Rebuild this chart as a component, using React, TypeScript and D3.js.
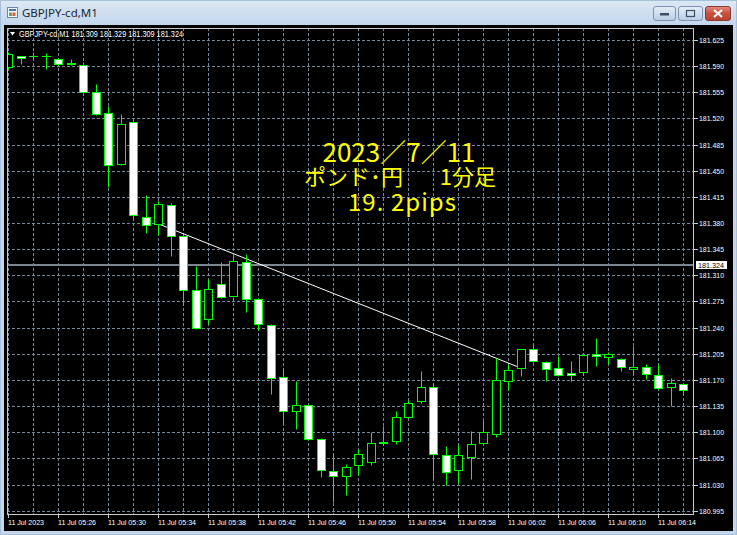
import React from "react";
import * as d3 from "d3";

// GBPJPY one-minute bars, 05:22 .. 06:16
const opens = [
  181.589, 181.604, 181.604, 181.603, 181.6, 181.594, 181.592, 181.555, 181.527, 181.459,
  181.515, 181.388, 181.379, 181.404, 181.362, 181.291, 181.252, 181.298, 181.282, 181.328,
  181.279, 181.244, 181.174, 181.129, 181.137, 181.091, 181.048, 181.042, 181.056, 181.06,
  181.086, 181.088, 181.12, 181.142, 181.161, 181.069, 181.05, 181.067, 181.085, 181.098,
  181.168, 181.186, 181.212, 181.194, 181.186, 181.179, 181.18, 181.205, 181.201, 181.198,
  181.184, 181.188, 181.177, 181.16, 181.164,
];
const highs = [
  181.609, 181.604, 181.609, 181.607, 181.601, 181.6, 181.595, 181.566, 181.536, 181.526,
  181.518, 181.418, 181.41, 181.407, 181.363, 181.323, 181.305, 181.328, 181.34, 181.338,
  181.28, 181.245, 181.184, 181.168, 181.138, 181.092, 181.072, 181.058, 181.078, 181.1,
  181.108, 181.128, 181.143, 181.182, 181.166, 181.082, 181.083, 181.102, 181.116, 181.199,
  181.19, 181.212, 181.217, 181.195, 181.202, 181.196, 181.205, 181.226, 181.208, 181.199,
  181.215, 181.191, 181.191, 181.172, 181.165,
];
const lows = [
  181.586, 181.593, 181.599, 181.586, 181.591, 181.592, 181.554, 181.525, 181.428, 181.458,
  181.387, 181.367, 181.364, 181.336, 181.27, 181.238, 181.245, 181.28, 181.281, 181.261,
  181.237, 181.151, 181.113, 181.104, 181.09, 181.04, 181.006, 181.016, 181.043, 181.056,
  181.083, 181.084, 181.119, 181.139, 181.038, 181.03, 181.032, 181.038, 181.085, 181.094,
  181.156, 181.175, 181.194, 181.169, 181.175, 181.169, 181.177, 181.189, 181.192, 181.182,
  181.176, 181.171, 181.158, 181.135, 181.15,
];
const closes = [
  181.606, 181.601, 181.604, 181.604, 181.593, 181.593, 181.556, 181.526, 181.458, 181.513,
  181.391, 181.378, 181.406, 181.362, 181.29, 181.239, 181.292, 181.281, 181.329, 181.278,
  181.245, 181.172, 181.129, 181.136, 181.091, 181.05, 181.041, 181.054, 181.071, 181.086,
  181.087, 181.121, 181.139, 181.16, 181.071, 181.047, 181.069, 181.084, 181.1, 181.17,
  181.183, 181.211, 181.195, 181.185, 181.176, 181.176, 181.204, 181.202, 181.205, 181.187,
  181.188, 181.178, 181.159, 181.166, 181.157,
];

const priceTicks = [
  181.625, 181.59, 181.555, 181.52, 181.485, 181.45, 181.415, 181.38, 181.345, 181.31,
  181.275, 181.24, 181.205, 181.17, 181.135, 181.1, 181.065, 181.03, 180.995,
];
const timeLabelBars = [0, 4, 8, 12, 16, 20, 24, 28, 32, 36, 40, 44, 48, 52];
const timeLabels = [
  "11 Jul 2023", "11 Jul 05:26", "11 Jul 05:30", "11 Jul 05:34", "11 Jul 05:38",
  "11 Jul 05:42", "11 Jul 05:46", "11 Jul 05:50", "11 Jul 05:54", "11 Jul 05:58",
  "11 Jul 06:02", "11 Jul 06:06", "11 Jul 06:10", "11 Jul 06:14",
];
const trendBars = [12, 41];
const trendPrices = [181.379, 181.186];
const currentPrice = 181.324;
const windowTitle = "GBPJPY-cd,M1";
const headerText = "GBPJPY-cd,M1  181.309 181.329 181.309 181.324";
const noteDate = "2023／7／11";
const notePair = "ポンド･円";
const noteFrame = "1分足";
const notePips = "19. 2pips";

const W = 737;
const H = 535;
const plot = { left: 7, right: 694, top: 28, bottom: 514 };
const GREEN = "#00ff00";
const GRID = "#778899";
const AXIS_FONT = "'Liberation Sans', Arial, sans-serif";
const NOTE_FONT = "'Noto Sans CJK JP', sans-serif";

export default function App() {
  const x = d3.scaleLinear().domain([0, 54]).range([8.3, 683.3]);
  const y = d3.scaleLinear().domain([180.995, 181.625]).range([510.7, 40]);
  const px = (v: number) => Math.round(v) + 0.5;

  const gridBars = d3.range(0, opens.length, 2);
  const trendLine = d3
    .line<number>()
    .x((_, i) => x(trendBars[i]))
    .y((p) => y(p));

  return (
    <svg
      width={W}
      height={H}
      viewBox={`0 0 ${W} ${H}`}
      style={{ position: "fixed", left: 0, top: 0, display: "block" }}
    >
      <defs>
        <linearGradient id="titleGrad" x1="0" y1="0" x2="0" y2="1">
          <stop offset="0" stopColor="#dce8f5" />
          <stop offset="1" stopColor="#c2d6ec" />
        </linearGradient>
        <linearGradient id="btnGrad" x1="0" y1="0" x2="0" y2="1">
          <stop offset="0" stopColor="#e6eef8" />
          <stop offset="1" stopColor="#b9cde4" />
        </linearGradient>
        <linearGradient id="closeGrad" x1="0" y1="0" x2="0" y2="1">
          <stop offset="0" stopColor="#e08c7e" />
          <stop offset="0.5" stopColor="#c9503f" />
          <stop offset="1" stopColor="#b8402f" />
        </linearGradient>
        <clipPath id="plotClip">
          <rect x={plot.left} y={plot.top} width={plot.right - plot.left} height={plot.bottom - plot.top} />
        </clipPath>
      </defs>

      {/* window frame and title bar */}
      <rect x={0} y={0} width={W} height={H} fill="#c4d7ec" />
      <rect x={0} y={0} width={W} height={25} fill="url(#titleGrad)" />
      <rect x={0.5} y={0.5} width={W - 1} height={H - 1} fill="none" stroke="#a8bfd8" />
      <g>
        <rect x={7.5} y={7.5} width={10} height={10} fill="#f4f7fb" stroke="#6f87a6" />
        <rect x={9} y={9} width={7} height={2} fill="#4a78b8" />
        <rect x={9} y={12.5} width={3} height={3.5} fill="#6aa84f" />
        <rect x={12.5} y={12.5} width={3} height={3.5} fill="#d95c4a" />
      </g>
      <text x={22} y={17} fontFamily="'Noto Sans', 'Liberation Sans', sans-serif" fontSize={11.5} fill="#1e2630">
        {windowTitle}
      </text>
      <g>
        <rect x={653.5} y={6.5} width={22} height={14} rx={2.5} fill="url(#btnGrad)" stroke="#7d93b0" />
        <rect x={660} y={13} width={9} height={2.5} fill="#3d4f66" />
        <rect x={678.5} y={6.5} width={24} height={14} rx={2.5} fill="url(#btnGrad)" stroke="#7d93b0" />
        <rect x={686.5} y={10.5} width={8} height={6} fill="none" stroke="#3d4f66" strokeWidth={1.2} />
        <rect x={705.5} y={6.5} width={25} height={14} rx={2.5} fill="url(#closeGrad)" stroke="#8a3a30" />
        <path d="M714,10 L722,17 M722,10 L714,17" stroke="#ffffff" strokeWidth={2} />
      </g>

      {/* chart window */}
      <rect x={4} y={25} width={729} height={506} fill="#000000" />

      {/* grid */}
      <g stroke={GRID} strokeWidth={1} strokeDasharray="3,2">
        {priceTicks.map((p) => (
          <line key={`h${p}`} x1={plot.left} x2={plot.right} y1={px(y(p))} y2={px(y(p))} />
        ))}
        {gridBars.map((b) => (
          <line key={`v${b}`} x1={px(x(b))} x2={px(x(b))} y1={plot.top} y2={plot.bottom} />
        ))}
      </g>

      {/* bid line */}
      <line x1={plot.left} x2={plot.right} y1={Math.round(y(currentPrice))} y2={Math.round(y(currentPrice))} stroke="#7b8690" strokeWidth={2} />

      {/* trend line (drawn under the bars) */}
      <path d={trendLine(trendPrices) || ""} stroke="#ffffff" strokeWidth={1} fill="none" clipPath="url(#plotClip)" />

      {/* candles */}
      <g clipPath="url(#plotClip)">
        {opens.map((o, i) => {
          const c = closes[i];
          const cx = Math.round(x(i));
          const top = px(y(Math.max(o, c)));
          const bot = px(y(Math.min(o, c)));
          const bull = c > o;
          return (
            <g key={i}>
              <line x1={cx + 0.5} x2={cx + 0.5} y1={px(y(highs[i]))} y2={px(y(lows[i]))} stroke={GREEN} />
              {bot - top < 1 ? (
                <line x1={cx - 4} x2={cx + 5} y1={top} y2={top} stroke={GREEN} />
              ) : (
                <rect x={cx - 3.5} y={top} width={8} height={bot - top} fill={bull ? "#000000" : "#ffffff"} stroke={GREEN} />
              )}
            </g>
          );
        })}
      </g>

      {/* plot border */}
      <rect x={plot.left + 0.5} y={plot.top + 0.5} width={plot.right - plot.left - 1} height={plot.bottom - plot.top} fill="none" stroke="#c8c8c8" />

      {/* symbol header */}
      <path d="M10,32 L15,32 L12.5,35.5 Z" fill="#ffffff" />
      <text x={19} y={37} fontFamily={AXIS_FONT} fontSize={8.5} fill="#ffffff" textLength={164} lengthAdjust="spacingAndGlyphs">
        {headerText}
      </text>

      {/* price axis */}
      <g fontFamily={AXIS_FONT} fontSize={8} fill="#ffffff">
        {priceTicks.map((p) => (
          <g key={`p${p}`}>
            <line x1={plot.right} x2={plot.right + 4} y1={px(y(p))} y2={px(y(p))} stroke="#c8c8c8" />
            <text x={699} y={Math.round(y(p)) + 3} textLength={25} lengthAdjust="spacingAndGlyphs">
              {p.toFixed(3)}
            </text>
          </g>
        ))}
      </g>
      <rect x={696} y={Math.round(y(currentPrice)) - 4} width={31} height={8} fill="#ffffff" />
      <text x={698} y={Math.round(y(currentPrice)) + 3} fontFamily={AXIS_FONT} fontSize={8} fill="#000000" textLength={26} lengthAdjust="spacingAndGlyphs">
        {currentPrice.toFixed(3)}
      </text>

      {/* time axis */}
      <g fontFamily={AXIS_FONT} fontSize={8} fill="#ffffff">
        {timeLabelBars.map((b, k) => (
          <g key={`t${b}`}>
            <line x1={px(x(b))} x2={px(x(b))} y1={plot.bottom} y2={plot.bottom + 4} stroke="#c8c8c8" />
            <text x={Math.round(x(b))} y={525} textLength={k === 0 ? 36 : 38} lengthAdjust="spacingAndGlyphs">
              {timeLabels[k]}
            </text>
          </g>
        ))}
      </g>

      {/* annotation */}
      <g fontFamily={NOTE_FONT} fill="#ffff00">
        <text x={399} y={162} fontSize={26} textAnchor="middle">{noteDate}</text>
        <text x={304} y={185} fontSize={22} textAnchor="start">{notePair}</text>
        <text x={496} y={185} fontSize={22} textAnchor="end">{noteFrame}</text>
        <text x={348} y={211} fontSize={24} textLength={108} lengthAdjust="spacing">{notePips}</text>
      </g>
    </svg>
  );
}
